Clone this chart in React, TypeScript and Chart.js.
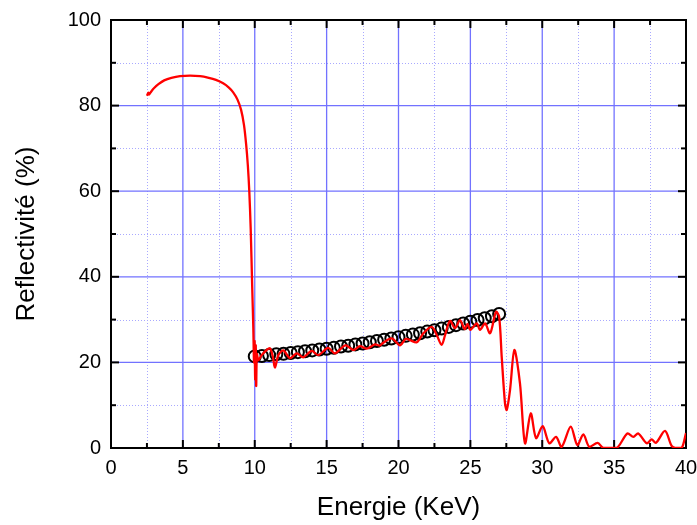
import React, { useEffect, useRef } from "react";
import { Chart, registerables } from "chart.js";

Chart.register(...registerables);

const X_MIN = 0;
const X_MAX = 40;
const Y_MIN = 0;
const Y_MAX = 100;

const xMajorTicks = [0, 5, 10, 15, 20, 25, 30, 35, 40];
const xMinorTicks = [2.5, 7.5, 12.5, 17.5, 22.5, 27.5, 32.5, 37.5];
const yMajorTicks = [0, 20, 40, 60, 80, 100];
const yMinorTicks = [10, 30, 50, 70, 90];

const xTitle = "Energie (KeV)";
const yTitle = "Reflectivité (%)";

// Calculated reflectivity (red curve)
const calcEnergy = [
  2.5, 2.6, 2.65, 2.8, 3.0, 3.3, 3.7, 4.2, 4.8, 5.5, 6.2, 6.8, 7.3, 7.8, 8.2,
  8.5, 8.8, 9.05, 9.25, 9.4, 9.52, 9.62, 9.72, 9.82, 9.9, 9.95, 9.99, 10.03,
  10.07, 10.1, 10.15, 10.25, 10.48, 10.83, 11.06, 11.25, 11.41, 11.64, 11.99,
  12.45, 12.92, 13.38, 13.96, 14.42, 15.1, 15.58, 16.3, 16.86, 17.32, 17.79,
  18.37, 18.7, 18.94, 19.53, 20.1, 20.5, 20.8, 21.27, 21.73, 22.31, 22.66, 23.0,
  23.24, 23.58, 23.93, 24.28, 24.6, 24.8, 25.0, 25.44, 25.67, 26.02, 26.37,
  26.78, 27.0, 27.18, 27.41, 27.53, 27.76, 28.06, 28.45, 28.8, 29.2, 29.57,
  30.03, 30.49, 30.96, 31.35, 31.98, 32.44, 32.86, 33.27, 33.85, 34.25, 35.18,
  35.92, 36.34, 36.68, 37.27, 37.61, 37.91, 38.54, 39.0, 39.3, 39.7, 40.0,
];
const calcReflectivity = [
  82.3, 83.0, 82.6, 83.3, 84.1, 85.0, 85.9, 86.5, 86.9, 87.0, 86.9, 86.5, 86.0,
  85.2, 84.2, 83.1, 81.4, 79.0, 75.5, 71.0, 66.0, 60.0, 51.0, 38.0, 28.0, 20.0,
  25.0, 16.0, 24.0, 14.5, 22.0, 20.5, 21.7, 22.9, 23.3, 21.5, 18.8, 21.7, 22.8,
  21.0, 22.1, 21.2, 22.7, 21.7, 23.4, 22.1, 24.0, 22.9, 23.8, 23.2, 24.2, 23.9,
  24.6, 25.6, 24.0, 25.5, 25.2, 24.7, 26.8, 28.3, 26.4, 24.1, 26.4, 29.7, 28.0,
  29.9, 27.8, 29.0, 27.6, 29.1, 27.6, 29.1, 26.8, 31.8, 30.7, 21.3, 10.4, 8.9,
  13.6, 22.9, 15.1, 1.1, 8.1, 2.3, 5.1, 1.1, 2.6, 0.3, 5.0, 0.7, 3.2, 0.3, 1.2,
  0.0, 0.0, 3.4, 2.6, 3.4, 1.1, 2.0, 1.2, 4.0, 0.5, 0.0, 0.0, 3.5,
];

// Measured reflectivity (open circles)
const expEnergy = [
  10, 10.5, 11, 11.5, 12, 12.5, 13, 13.5, 14, 14.5, 15, 15.5, 16, 16.5, 17,
  17.5, 18, 18.5, 19, 19.5, 20, 20.5, 21, 21.5, 22, 22.5, 23, 23.5, 24, 24.5,
  25, 25.5, 26, 26.5, 27,
];
const expReflectivity = [
  21.4, 21.5, 21.7, 21.9, 22.0, 22.2, 22.4, 22.6, 22.8, 23.0, 23.2, 23.4, 23.7,
  23.9, 24.2, 24.4, 24.7, 25.0, 25.3, 25.6, 25.9, 26.2, 26.5, 26.8, 27.2, 27.5,
  27.9, 28.3, 28.7, 29.1, 29.5, 29.9, 30.3, 30.8, 31.3,
];

const FONT = "'Liberation Sans', Arial, Helvetica, sans-serif";

const framePlugin = {
  id: "frameGrid",
  beforeDatasetsDraw(chart: any) {
    const { ctx, chartArea } = chart;
    const { left, right, top, bottom } = chartArea;
    const xs = chart.scales.x;
    const ys = chart.scales.y;
    ctx.save();
    const line = (x1: number, y1: number, x2: number, y2: number) => {
      ctx.beginPath();
      ctx.moveTo(x1, y1);
      ctx.lineTo(x2, y2);
      ctx.stroke();
    };
    // minor grid
    ctx.strokeStyle = "#a9a9ff";
    ctx.lineWidth = 1;
    ctx.setLineDash([1, 2]);
    xMinorTicks.forEach((v) => {
      const p = Math.round(xs.getPixelForValue(v)) + 0.5;
      line(p, top, p, bottom);
    });
    yMinorTicks.forEach((v) => {
      const p = Math.round(ys.getPixelForValue(v)) + 0.5;
      line(left, p, right, p);
    });
    // major grid
    ctx.setLineDash([]);
    ctx.strokeStyle = "#7272ff";
    ctx.lineWidth = 1.3;
    xMajorTicks.forEach((v) => {
      const p = xs.getPixelForValue(v);
      line(p, top, p, bottom);
    });
    yMajorTicks.forEach((v) => {
      const p = ys.getPixelForValue(v);
      line(left, p, right, p);
    });
    // frame
    ctx.strokeStyle = "#000";
    ctx.lineWidth = 2;
    ctx.strokeRect(left, top, right - left, bottom - top);
    // ticks
    const majorLen = 8;
    const minorLen = 5;
    xMajorTicks.forEach((v) => {
      const p = xs.getPixelForValue(v);
      line(p, bottom, p, bottom - majorLen);
      line(p, top, p, top + majorLen);
    });
    xMinorTicks.forEach((v) => {
      const p = xs.getPixelForValue(v);
      line(p, bottom, p, bottom - minorLen);
      line(p, top, p, top + minorLen);
    });
    yMajorTicks.forEach((v) => {
      const p = ys.getPixelForValue(v);
      line(left, p, left + majorLen, p);
      line(right, p, right - majorLen, p);
    });
    yMinorTicks.forEach((v) => {
      const p = ys.getPixelForValue(v);
      line(left, p, left + minorLen, p);
      line(right, p, right - minorLen, p);
    });
    ctx.restore();
  },
};

export default function App() {
  const canvasRef = useRef<HTMLCanvasElement | null>(null);

  useEffect(() => {
    if (!canvasRef.current) return;
    const calcData = calcEnergy.map((x, i) => ({ x, y: calcReflectivity[i] }));
    const expData = expEnergy.map((x, i) => ({ x, y: expReflectivity[i] }));
    const chart = new Chart(canvasRef.current, {
      type: "scatter",
      data: {
        datasets: [
          {
            label: "Calcul",
            data: calcData,
            showLine: true,
            borderColor: "#ff0000",
            borderWidth: 2.3,
            pointRadius: 0,
            tension: 0.3,
            fill: false,
          },
          {
            label: "Mesure",
            data: expData,
            showLine: false,
            borderColor: "#000000",
            backgroundColor: "rgba(0,0,0,0)",
            pointBackgroundColor: "rgba(0,0,0,0)",
            pointBorderColor: "#000000",
            pointBorderWidth: 2,
            pointRadius: 6,
            pointStyle: "circle",
          },
        ],
      },
      options: {
        responsive: false,
        animation: false,
        layout: { padding: { top: 20, right: 11, left: 0, bottom: 0 } },
        plugins: {
          legend: { display: false },
          tooltip: { enabled: false },
        },
        scales: {
          x: {
            type: "linear",
            min: X_MIN,
            max: X_MAX,
            grid: { display: false, drawTicks: false, tickLength: 0 },
            border: { display: false },
            ticks: {
              stepSize: 5,
              padding: 8,
              color: "#000",
              font: { family: FONT, size: 20 },
              maxRotation: 0,
              autoSkip: false,
            },
            title: {
              display: true,
              text: xTitle,
              color: "#000",
              font: { family: FONT, size: 26 },
              padding: { top: 0, bottom: 2 },
            },
            afterFit: (scale: any) => {
              scale.height = 77;
              scale.paddingLeft = 0;
              scale.paddingRight = 0;
            },
          },
          y: {
            type: "linear",
            min: Y_MIN,
            max: Y_MAX,
            grid: { display: false, drawTicks: false, tickLength: 0 },
            border: { display: false },
            ticks: {
              stepSize: 20,
              padding: 10,
              color: "#000",
              font: { family: FONT, size: 20 },
              autoSkip: false,
            },
            title: {
              display: true,
              text: yTitle,
              color: "#000",
              font: { family: FONT, size: 26 },
              padding: { top: 11, bottom: 0 },
            },
            afterFit: (scale: any) => {
              scale.width = 111;
              scale.paddingTop = 0;
              scale.paddingBottom = 0;
            },
          },
        },
      },
      plugins: [framePlugin],
    } as any);
    return () => chart.destroy();
  }, []);

  return (
    <div style={{ position: "absolute", left: 0, top: 0, width: 697, height: 525, background: "#fff" }}>
      <canvas ref={canvasRef} width={697} height={525} />
    </div>
  );
}
